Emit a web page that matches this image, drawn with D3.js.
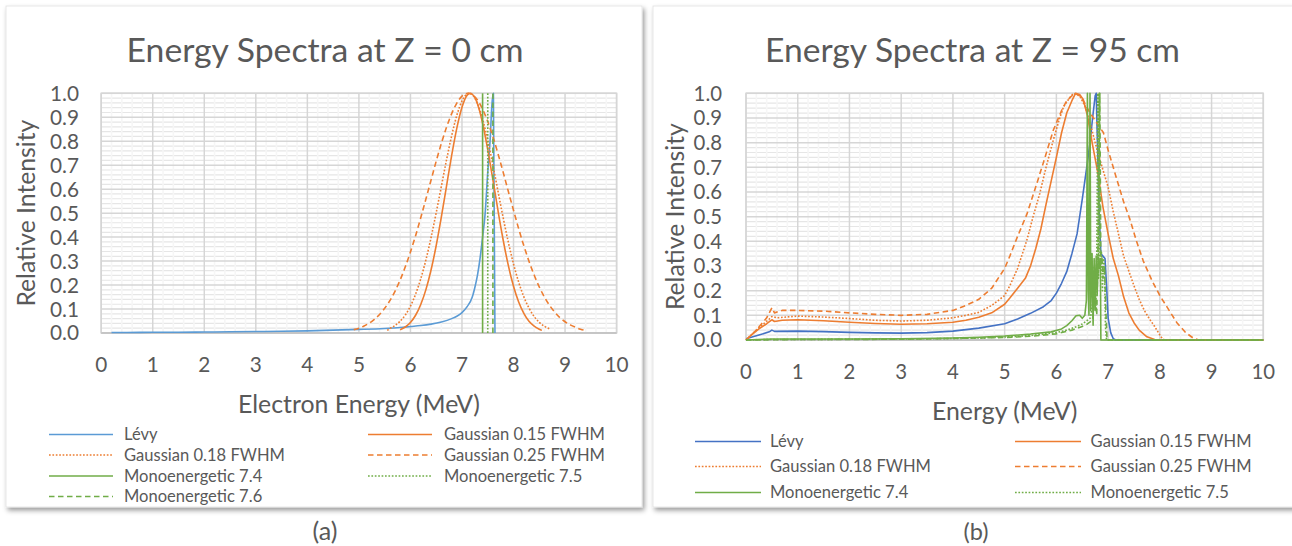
<!DOCTYPE html>
<html><head><meta charset="utf-8">
<script src="https://cdn.jsdelivr.net/npm/d3@7"></script>
<style>
body{margin:0;background:#fff}
svg{display:block}
text{font-family:Lato,"Open Sans",sans-serif;fill:#595959}
</style>
</head><body>
<svg id="c" width="1292" height="546"></svg>
<script>
// ---------- data ----------
const xTicks = [0,1,2,3,4,5,6,7,8,9,10];
const yTicks = [0,0.1,0.2,0.3,0.4,0.5,0.6,0.7,0.8,0.9,1.0];
const titles = ["Energy Spectra at Z = 0 cm", "Energy Spectra at Z = 95 cm"];
const xTitles = ["Electron Energy (MeV)", "Energy (MeV)"];
const yTitle = "Relative Intensity";
const panelLabels = ["(a)", "(b)"];
const seriesNames = ["Lévy","Gaussian 0.15 FWHM","Gaussian 0.18 FWHM","Gaussian 0.25 FWHM","Monoenergetic 7.4","Monoenergetic 7.5","Monoenergetic 7.6"];

// Panel (a): Z = 0 cm
const levyA = [[0.2,0.002],[0.5,0.002],[1,0.003],[1.5,0.003],[2,0.004],[2.5,0.005],[3,0.006],[3.5,0.007],[4,0.009],[4.5,0.012],[5,0.015],[5.5,0.019],[5.8,0.023],[6,0.027],[6.2,0.031],[6.4,0.037],[6.6,0.046],[6.8,0.06],[6.9,0.07],[7.0,0.085],[7.1,0.11],[7.2,0.15],[7.25,0.19],[7.3,0.24],[7.35,0.31],[7.4,0.4],[7.45,0.5],[7.5,0.67],[7.55,0.82],[7.58,0.95],[7.61,1.0],[7.64,0.0]];
const gauss15A = [[5.8,0.014],[5.9,0.025],[6.0,0.044],[6.1,0.074],[6.2,0.119],[6.3,0.181],[6.4,0.263],[6.5,0.365],[6.6,0.484],[6.7,0.613],[6.8,0.741],[6.9,0.855],[7.0,0.942],[7.1,0.992],[7.16,1.0],[7.2,0.996],[7.3,0.956],[7.4,0.875],[7.5,0.765],[7.6,0.639],[7.7,0.509],[7.8,0.387],[7.9,0.281],[8.0,0.195],[8.1,0.129],[8.2,0.082],[8.3,0.049],[8.4,0.029],[8.5,0.016],[8.55,0.011]];
const gauss18A = [[5.55,0.011],[5.6,0.019],[5.7,0.031],[5.8,0.049],[5.9,0.075],[6.0,0.112],[6.1,0.162],[6.2,0.226],[6.3,0.305],[6.4,0.398],[6.5,0.502],[6.6,0.612],[6.7,0.722],[6.8,0.823],[6.9,0.908],[7.0,0.968],[7.1,0.997],[7.14,1.0],[7.2,0.994],[7.3,0.958],[7.4,0.892],[7.5,0.804],[7.6,0.7],[7.7,0.59],[7.8,0.48],[7.9,0.378],[8.0,0.288],[8.1,0.212],[8.2,0.151],[8.3,0.104],[8.4,0.069],[8.5,0.044],[8.6,0.028],[8.7,0.017]];
const gauss25A = [[4.9,0.014],[5.0,0.02],[5.1,0.029],[5.2,0.041],[5.3,0.057],[5.4,0.077],[5.5,0.103],[5.6,0.135],[5.7,0.174],[5.8,0.221],[5.9,0.276],[6.0,0.338],[6.1,0.406],[6.2,0.481],[6.3,0.559],[6.4,0.638],[6.5,0.717],[6.6,0.791],[6.7,0.858],[6.8,0.915],[6.9,0.959],[7.0,0.988],[7.12,1.0],[7.2,0.994],[7.3,0.972],[7.4,0.934],[7.5,0.882],[7.6,0.819],[7.7,0.747],[7.8,0.67],[7.9,0.59],[8.0,0.512],[8.1,0.435],[8.2,0.364],[8.3,0.299],[8.4,0.242],[8.5,0.192],[8.6,0.15],[8.7,0.115],[8.8,0.087],[8.9,0.064],[9.0,0.047],[9.1,0.034],[9.2,0.024],[9.3,0.016],[9.4,0.011]];
const mono74A = [[7.4,0],[7.4,1]];
const mono75A = [[7.5,0],[7.5,1]];
const mono76A = [[7.6,0],[7.6,1]];

// Panel (b): Z = 95 cm
const levyB = [[0,0.005],[0.25,0.02],[0.45,0.033],[0.5,0.04],[0.55,0.035],[1,0.036],[1.5,0.034],[2,0.031],[2.5,0.029],[3,0.028],[3.5,0.03],[4,0.036],[4.5,0.048],[5,0.066],[5.25,0.085],[5.5,0.108],[5.75,0.135],[5.9,0.16],[6.0,0.19],[6.1,0.23],[6.2,0.277],[6.3,0.35],[6.4,0.43],[6.5,0.57],[6.6,0.72],[6.65,0.8],[6.7,0.9],[6.75,0.99],[6.77,1.0],[6.8,0.75],[6.83,0.5],[6.86,0.35],[6.9,0.34],[6.94,0.33],[6.97,0.22],[7.0,0.09],[7.05,0.03],[7.1,0.005],[7.15,0],[10,0]];
const gauss15B = [[0,0],[0.1,0.02],[0.25,0.045],[0.4,0.066],[0.5,0.082],[0.55,0.075],[0.7,0.08],[1,0.082],[1.5,0.078],[2,0.072],[2.5,0.067],[3,0.064],[3.5,0.066],[4,0.072],[4.25,0.08],[4.5,0.092],[4.75,0.11],[5.0,0.145],[5.1,0.17],[5.25,0.21],[5.4,0.25],[5.5,0.3],[5.6,0.37],[5.7,0.45],[5.8,0.55],[5.9,0.645],[6.0,0.74],[6.1,0.84],[6.2,0.92],[6.3,0.97],[6.37,1.0],[6.45,0.995],[6.52,0.975],[6.6,0.91],[6.7,0.79],[6.8,0.68],[6.9,0.54],[7.0,0.43],[7.1,0.33],[7.2,0.26],[7.3,0.175],[7.4,0.11],[7.5,0.07],[7.6,0.04],[7.75,0.013],[7.9,0.002],[8.0,0],[10,0]];
const gauss18B = [[0,0],[0.25,0.05],[0.45,0.085],[0.5,0.095],[0.6,0.09],[1,0.097],[1.5,0.093],[2,0.087],[2.5,0.08],[3,0.077],[3.5,0.08],[4,0.09],[4.25,0.1],[4.5,0.112],[4.75,0.14],[5.0,0.18],[5.1,0.22],[5.25,0.29],[5.43,0.405],[5.55,0.5],[5.68,0.595],[5.8,0.7],[5.94,0.81],[6.05,0.89],[6.14,0.946],[6.25,0.98],[6.33,1.0],[6.45,0.99],[6.55,0.95],[6.65,0.88],[6.75,0.8],[6.8,0.76],[6.9,0.69],[7.0,0.62],[7.1,0.52],[7.2,0.43],[7.3,0.34],[7.4,0.28],[7.5,0.22],[7.6,0.165],[7.7,0.12],[7.8,0.085],[7.9,0.055],[8.0,0.02],[8.05,0.005],[8.1,0],[10,0]];
const gauss25B = [[0,0],[0.2,0.04],[0.4,0.09],[0.5,0.13],[0.55,0.11],[0.7,0.12],[1,0.12],[1.5,0.117],[2,0.11],[2.5,0.104],[3,0.1],[3.5,0.104],[4,0.12],[4.25,0.14],[4.5,0.165],[4.75,0.21],[5.0,0.29],[5.1,0.34],[5.25,0.42],[5.43,0.51],[5.6,0.62],[5.75,0.72],[5.94,0.85],[6.1,0.93],[6.2,0.97],[6.3,0.99],[6.36,1.0],[6.45,0.99],[6.55,0.96],[6.65,0.92],[6.75,0.89],[6.91,0.84],[7.0,0.77],[7.17,0.65],[7.3,0.56],[7.42,0.49],[7.55,0.4],[7.68,0.32],[7.85,0.24],[8.0,0.18],[8.15,0.13],[8.33,0.07],[8.5,0.03],[8.65,0.007],[8.75,0],[10,0]];
const mono74B = [[0,0],[0.5,0.004],[1,0.004],[2,0.004],[3,0.005],[4,0.008],[4.5,0.011],[5,0.016],[5.5,0.024],[5.9,0.033],[6.1,0.045],[6.2,0.058],[6.3,0.078],[6.38,0.098],[6.45,0.1],[6.5,0.088],[6.55,0.1],[6.58,0.16],[6.6,1.0],[6.615,0.2],[6.63,0.1],[6.65,1.0],[6.665,0.12],[6.69,0.35],[6.71,0.06],[6.73,0.33],[6.75,0.12],[6.77,0.34],[6.79,0.2],[6.81,0.33],[6.83,0.29],[6.85,0.33],[6.86,0],[10,0]];
const mono75B = [[0,0],[0.5,0.002],[1,0.002],[2,0.003],[3,0.004],[4,0.006],[4.5,0.008],[5,0.012],[5.5,0.018],[6,0.03],[6.2,0.04],[6.4,0.055],[6.5,0.065],[6.6,0.08],[6.66,0.09],[6.7,0.15],[6.73,0.3],[6.76,0.12],[6.78,0.32],[6.8,1.0],[6.815,0.25],[6.83,1.0],[6.845,0.3],[6.87,0.36],[6.89,0.2],[6.91,0.33],[6.93,0.3],[6.95,0.05],[6.97,0],[10,0]];
const mono76B = [[0,0],[1,0.002],[3,0.003],[5,0.01],[5.5,0.015],[6,0.025],[6.3,0.04],[6.5,0.055],[6.6,0.065],[6.7,0.08],[6.75,0.2],[6.78,0.1],[6.8,0.3],[6.84,1.0],[6.86,0.3],[6.88,0.34],[6.9,0.25],[6.93,0.3],[6.96,0.1],[6.98,0],[10,0]];

// ---------- styles ----------
const ORANGE = "#ED7D31", GREEN = "#70AD47";
const styles = [
  {dash:null}, {dash:null}, {dash:"1.7,1.7"}, {dash:"5.5,3.5"},
  {dash:null}, {dash:"1.7,1.7"}, {dash:"5.5,3.5"}
];

const svg = d3.select("#c");
const defs = svg.append("defs");
const f = defs.append("filter").attr("id","sh").attr("x","-5%").attr("y","-5%").attr("width","112%").attr("height","115%");
f.append("feDropShadow").attr("dx",2).attr("dy",3).attr("stdDeviation",2.5).attr("flood-color","#000").attr("flood-opacity",0.4);

function fit(t, w){
  const fs = +t.attr("font-size");
  const l = t.node().getComputedTextLength();
  t.attr("font-size", fs * w / l);
  return fs * w / l;
}

const panels = [
  {card:[6,6,636,501], x0:101.2, x1:616.6, yT:93.3, yB:333, title:titles[0], tX:325, tW:397,
   yTR:79, yTW:29, yTitX:26, xTB:371.7, xTitle:xTitles[0], xTitX:359, xTitW:242, xTitB:412.5,
   cols:[49,368], lineLen:64, textX:[124,444], rows:[434.5,455,476,496.5], legendN:7,
   label:panelLabels[0], labelX:325, levy:"#5B9BD5",
   data:[levyA,gauss15A,gauss18A,gauss25A,mono74A,mono75A,mono76A], curve:d3.curveMonotoneX},
  {card:[653,6,660,501], x0:746, x1:1263.3, yT:93.3, yB:340, title:titles[1], tX:972.5, tW:415,
   yTR:722, yTW:28.4, yTitX:675, xTB:378.5, xTitle:xTitles[1], xTitX:1004.7, xTitW:145.5, xTitB:420,
   cols:[695,1015], lineLen:66, textX:[770,1090.6], rows:[441.5,466.5,492.5], legendN:6,
   label:panelLabels[1], labelX:976, levy:"#4472C4",
   data:[levyB,gauss15B,gauss18B,gauss25B,mono74B,mono75B,mono76B], curve:d3.curveLinear}
];

panels.forEach(p => {
  const g = svg.append("g");
  g.append("rect").attr("x",p.card[0]).attr("y",p.card[1]).attr("width",p.card[2]).attr("height",p.card[3])
    .attr("fill","#fff").attr("stroke","#e0e0e0").attr("stroke-width",0.8).attr("filter","url(#sh)");

  const x = d3.scaleLinear().domain([0,10]).range([p.x0,p.x1]);
  const y = d3.scaleLinear().domain([0,1]).range([p.yB,p.yT]);

  // minor grid
  const minorY = d3.range(0,1.0001,0.02).filter(v => Math.abs(v*10-Math.round(v*10))>1e-6);
  const minorX = d3.range(0,10.0001,0.2).filter(v => Math.abs(v-Math.round(v))>1e-6);
  g.append("g").selectAll("line").data(minorY).join("line")
    .attr("x1",p.x0).attr("x2",p.x1).attr("y1",d=>y(d)).attr("y2",d=>y(d))
    .attr("stroke","#e6e6e6").attr("stroke-width",1.2);
  g.append("g").selectAll("line").data(minorX).join("line")
    .attr("y1",p.yT).attr("y2",p.yB).attr("x1",d=>x(d)).attr("x2",d=>x(d))
    .attr("stroke","#f6f6f6").attr("stroke-width",1.6);
  // major grid
  g.append("g").selectAll("line").data(yTicks).join("line")
    .attr("x1",p.x0).attr("x2",p.x1).attr("y1",d=>y(d)).attr("y2",d=>y(d))
    .attr("stroke","#d6d6d6").attr("stroke-width",1.5);
  g.append("g").selectAll("line").data(xTicks).join("line")
    .attr("y1",p.yT).attr("y2",p.yB).attr("x1",d=>x(d)).attr("x2",d=>x(d))
    .attr("stroke","#d6d6d6").attr("stroke-width",1.5);
  g.append("rect").attr("x",p.x0).attr("y",p.yT).attr("width",p.x1-p.x0).attr("height",p.yB-p.yT)
    .attr("fill","none").attr("stroke","#d6d6d6").attr("stroke-width",1.5);
  g.append("line").attr("x1",p.x0).attr("x2",p.x1).attr("y1",p.yB).attr("y2",p.yB)
    .attr("stroke","#bfbfbf").attr("stroke-width",1.5);

  // series
  const colors = [p.levy, ORANGE, ORANGE, ORANGE, GREEN, GREEN, GREEN];
  const line = d3.line().x(d=>x(d[0])).y(d=>y(d[1])).curve(p.curve);
  const lineLin = d3.line().x(d=>x(d[0])).y(d=>y(d[1]));
  p.data.forEach((ser,i) => {
    g.append("path").attr("d", (i>=4 ? lineLin : line)(ser))
      .attr("fill","none").attr("stroke",colors[i]).attr("stroke-width",1.6)
      .attr("stroke-dasharray",styles[i].dash).attr("stroke-linejoin","round");
  });

  // y tick labels
  const yl = g.append("g").selectAll("text").data(yTicks).join("text")
    .attr("x",p.yTR).attr("y",d=>y(d)).attr("dy","0.36em").attr("text-anchor","end")
    .attr("font-size",20).text(d=>d3.format(".1f")(d));
  const fsT = fit(d3.select(yl.nodes()[10]), p.yTW);
  yl.attr("font-size",fsT);
  // x tick labels
  g.append("g").selectAll("text").data(xTicks).join("text")
    .attr("x",d=>x(d)).attr("y",p.xTB).attr("text-anchor","middle")
    .attr("font-size",fsT).text(d=>d);

  // title
  const t = g.append("text").attr("x",p.tX).attr("y",62).attr("text-anchor","middle").attr("font-size",32).text(p.title);
  fit(t,p.tW);
  // axis titles
  const xt = g.append("text").attr("x",p.xTitX).attr("y",p.xTitB).attr("text-anchor","middle").attr("font-size",20).text(p.xTitle);
  fit(xt,p.xTitW);
  const ycy = (p.yT+p.yB)/2;
  const yt = g.append("text").attr("transform",`translate(${p.yTitX},${ycy}) rotate(-90)`)
    .attr("text-anchor","middle").attr("dy","0.35em").attr("font-size",20).text(yTitle);
  fit(yt,187);

  // legend
  const lg = g.append("g");
  let fsL = null;
  for (let i=0;i<p.legendN;i++){
    const col = i%2, row = Math.floor(i/2);
    const ly = p.rows[row];
    lg.append("line").attr("x1",p.cols[col]).attr("x2",p.cols[col]+p.lineLen).attr("y1",ly).attr("y2",ly)
      .attr("stroke",colors[i]).attr("stroke-width",1.6).attr("stroke-dasharray",styles[i].dash);
    const tx = lg.append("text").attr("x",p.textX[col]).attr("y",ly).attr("dy","0.35em")
      .attr("font-size",16).text(seriesNames[i]);
    if (i===1) fsL = fit(tx,161);
  }
  lg.selectAll("text").attr("font-size",fsL);

  // panel label
  const pl = svg.append("text").attr("x",p.labelX).attr("y",540).attr("text-anchor","middle").attr("font-size",20).text(p.label);
  fit(pl,25);
});
</script>
</body></html>
